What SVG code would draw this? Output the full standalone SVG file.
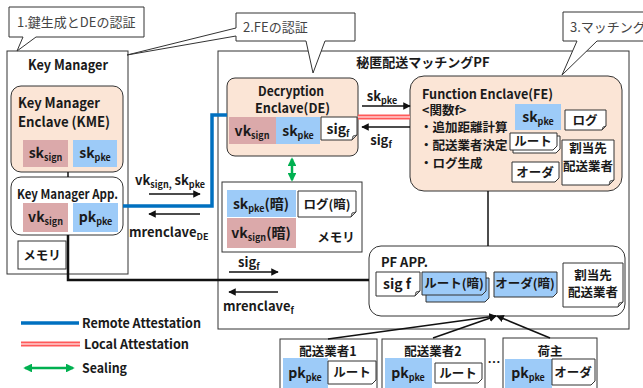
<svg xmlns="http://www.w3.org/2000/svg" width="643" height="388" viewBox="0 0 643 388">
<defs>
<style>
.t{font-family:"Noto Sans CJK JP","Noto Sans",sans-serif;font-weight:700;font-size:14px;fill:#1a1a1a}
.s{font-size:13px}
.j{font-size:12.5px}
.c{text-anchor:middle}
.n{font-weight:400;fill:#444}
.sub{font-size:9px}
.box{fill:#fff;stroke:#333;stroke-width:1}
.peach{fill:#FBE5D6;stroke:#333;stroke-width:1}
.pink{fill:#DBA9AA}
.blue{fill:#9DCBF8}
.doc{fill:#fff;stroke:#333;stroke-width:1}
.docb{fill:#9DCBF8;stroke:#333;stroke-width:1}
.fold{fill:#ccc;stroke:#333;stroke-width:0.8}
.ln{stroke:#111;stroke-width:1.5;fill:none}
.arr{stroke:#111;stroke-width:1.5;fill:none;marker-end:url(#ah)}
.ra{stroke:#0070C0;stroke-width:3.5;fill:none}
.la1{stroke:#FF5A5A;stroke-width:5;fill:none}
.la2{stroke:#FFD0D0;stroke-width:1.5;fill:none}
.seal{stroke:#00B050;stroke-width:2.5;fill:none;marker-start:url(#gs);marker-end:url(#ge)}
</style>
<marker id="ah" viewBox="0 0 10 10" refX="9" refY="5" markerWidth="5" markerHeight="5" orient="auto"><path d="M0,0 L10,5 L0,10 Z" fill="#111"/></marker>
<marker id="ge" viewBox="0 0 10 10" refX="8" refY="5" markerWidth="3.5" markerHeight="3.5" orient="auto"><path d="M0,0 L10,5 L0,10 Z" fill="#00B050"/></marker>
<marker id="gs" viewBox="0 0 10 10" refX="2" refY="5" markerWidth="3.5" markerHeight="3.5" orient="auto"><path d="M10,0 L0,5 L10,10 Z" fill="#00B050"/></marker>
</defs>
<rect width="643" height="388" fill="#fff"/>

<!-- platform container -->
<g id="pf">
<rect x="218" y="51" width="411" height="278" fill="none" stroke="#333" stroke-width="1"/>
<text class="t c s" x="423" y="67">秘匿配送マッチングPF</text>
</g>

<!-- Key Manager -->
<g id="key-manager">
<rect class="box" x="7" y="51" width="121" height="223"/>
<text class="t" x="28" y="70" textLength="80" lengthAdjust="spacingAndGlyphs">Key Manager</text>
</g>
<g id="kme">
<rect class="peach" x="11" y="86" width="112" height="86" rx="10"/>
<text class="t" x="18" y="108" textLength="82" lengthAdjust="spacingAndGlyphs">Key Manager</text>
<text class="t" x="18" y="127" textLength="92" lengthAdjust="spacingAndGlyphs">Enclave (KME)</text>
<rect class="pink" x="23" y="140" width="45" height="27"/>
<text class="t c" x="45.5" y="158">sk<tspan class="sub" dy="3">sign</tspan></text>
<rect class="blue" x="73" y="140" width="44" height="27"/>
<text class="t c" x="95" y="158">sk<tspan class="sub" dy="3">pke</tspan></text>
</g>
<g id="km-app">
<rect class="box" x="11" y="177" width="112" height="58" rx="10"/>
<text class="t s" x="17" y="199" textLength="101" lengthAdjust="spacingAndGlyphs">Key Manager App.</text>
<rect class="pink" x="23" y="203" width="45" height="29"/>
<text class="t c" x="45.5" y="222">vk<tspan class="sub" dy="3">sign</tspan></text>
<rect class="blue" x="73" y="203" width="45" height="29"/>
<text class="t c" x="95.5" y="222">pk<tspan class="sub" dy="3">pke</tspan></text>
</g>
<g id="km-memory">
<rect class="box" x="18" y="241" width="48" height="28"/>
<text class="t c j" x="42" y="259.5">メモリ</text>
</g>

<!-- Decryption Enclave -->
<g id="de">
<rect class="peach" x="227" y="78" width="131" height="78" rx="8"/>
<text class="t s" x="258" y="96" textLength="66" lengthAdjust="spacingAndGlyphs">Decryption</text>
<text class="t s" x="255" y="113" textLength="75" lengthAdjust="spacingAndGlyphs">Enclave(DE)</text>
<rect class="pink" x="229" y="117" width="47" height="27"/>
<text class="t c" x="252" y="136">vk<tspan class="sub" dy="3">sign</tspan></text>
<rect class="blue" x="276" y="117" width="44" height="27"/>
<text class="t c" x="298" y="136">sk<tspan class="sub" dy="3">pke</tspan></text>
<path class="doc" d="M321,117 H357 V135 L352,140 H321 Z"/>
<path class="fold" d="M352,140 L353,136 L357,135 Z"/>
<text class="t c" x="338" y="134">sig<tspan class="sub" dy="3">f</tspan></text>
</g>
<g id="de-memory">
<rect class="box" x="222" y="182" width="140" height="70"/>
<rect class="blue" x="227" y="190" width="69" height="27"/>
<text class="t c" x="261" y="209">sk<tspan class="sub" dy="3">pke</tspan><tspan dy="-3">(暗)</tspan></text>
<path class="doc" d="M298,191 H356 V212 L351,217 H298 Z"/>
<path class="fold" d="M351,217 L352,213 L356,212 Z"/>
<text class="t c j" x="327" y="209">ログ(暗)</text>
<rect class="pink" x="227" y="218" width="69" height="30"/>
<text class="t c" x="261" y="238">vk<tspan class="sub" dy="3">sign</tspan><tspan dy="-3">(暗)</tspan></text>
<text class="t c j" x="336" y="242">メモリ</text>
</g>

<!-- Function Enclave -->
<g id="fe">
<rect class="peach" x="410" y="76" width="212" height="115" rx="14"/>
<text class="t s" x="422" y="99" textLength="131" lengthAdjust="spacingAndGlyphs">Function Enclave(FE)</text>
<text class="t j" x="422" y="115">&lt;関数f&gt;</text>
<text class="t j" x="420" y="132">・追加距離計算</text>
<text class="t j" x="420" y="150">・配送業者決定</text>
<text class="t j" x="420" y="168">・ログ生成</text>
<rect class="blue" x="515" y="104" width="46" height="26"/>
<text class="t c" x="538" y="122">sk<tspan class="sub" dy="3">pke</tspan></text>
<path class="doc" d="M565,110 H606 V126 L602,130 H565 Z"/>
<path class="fold" d="M602,130 L603,127 L606,126 Z"/>
<text class="t c j" x="585" y="125">ログ</text>
<path class="doc" d="M513,136 H560 V149 L556,153 H513 Z"/>
<path class="doc" d="M510,133 H557 V146 L553,150 H510 Z"/>
<text class="t c j" x="533" y="146">ルート</text>
<path class="doc" d="M512,162 H559 V178 L555,182 H512 Z"/>
<text class="t c j" x="535" y="177">オーダ</text>
<path class="doc" d="M562,140 H614 V180 L609,185 H562 Z"/>
<path class="fold" d="M609,185 L610,181 L614,180 Z"/>
<text class="t c j" x="588" y="153">割当先</text>
<text class="t c j" x="588" y="171">配送業者</text>
</g>

<!-- PF APP -->
<g id="pf-app">
<rect class="box" x="369" y="246" width="256" height="70" rx="12"/>
<text class="t s" x="381" y="267" textLength="47" lengthAdjust="spacingAndGlyphs">PF APP.</text>
<path class="doc" d="M376,272 H420 V291 L415,296 H376 Z"/>
<path class="fold" d="M415,296 L416,292 L420,291 Z"/>
<text class="t c" x="397" y="289">sig f</text>
<path class="docb" d="M426,278 H489 V298 L485,302 H426 Z"/>
<path class="docb" d="M422,272 H486 V291 L482,295 H422 Z"/>
<text class="t c j" x="454" y="288">ルート(暗)</text>
<path class="docb" d="M494,272 H557 V293 L553,297 H494 Z"/>
<text class="t c j" x="525" y="288">オーダ(暗)</text>
<path class="doc" d="M563,263 H623 V302 L618,307 H563 Z"/>
<path class="fold" d="M618,307 L619,303 L623,302 Z"/>
<text class="t c j" x="593" y="280">割当先</text>
<text class="t c j" x="593" y="297">配送業者</text>
</g>

<!-- Users -->
<g id="carrier1">
<rect class="box" x="280" y="339" width="97" height="55"/>
<text class="t c j" x="328" y="356">配送業者1</text>
<rect class="blue" x="283" y="358" width="45" height="32"/>
<text class="t c" x="305" y="378">pk<tspan class="sub" dy="3">pke</tspan></text>
<path class="doc" d="M328,361 H376 V380 L372,384 H328 Z"/>
<text class="t c j" x="352" y="377">ルート</text>
</g>
<g id="carrier2">
<rect class="box" x="382" y="339" width="103" height="55"/>
<text class="t c j" x="433" y="356">配送業者2</text>
<rect class="blue" x="385" y="358" width="47" height="32"/>
<text class="t c" x="408" y="378">pk<tspan class="sub" dy="3">pke</tspan></text>
<path class="doc" d="M435,363 H482 V379 L478,383 H435 Z"/>
<text class="t c j" x="458" y="378">ルート</text>
</g>
<text class="t c s" x="494" y="367">…</text>
<g id="shipper">
<rect class="box" x="503" y="338" width="94" height="56"/>
<text class="t c j" x="550" y="356">荷主</text>
<rect class="blue" x="505" y="359" width="47" height="31"/>
<text class="t c" x="528" y="378">pk<tspan class="sub" dy="3">pke</tspan></text>
<path class="doc" d="M552,359 H595 V381 L591,385 H552 Z"/>
<text class="t c j" x="573" y="377">オーダ</text>
</g>

<!-- Connectors -->
<g id="connectors">
<path class="ln" d="M68,172 V177"/>
<path class="ln" style="stroke-width:2.5" d="M68,235 V280 H369"/>
<path class="ra" d="M123,206 H212 V115 H227"/>
<path class="arr" d="M149,194 H200"/>
<text class="t s" x="135" y="185">vk<tspan class="sub" dy="3">sign,</tspan><tspan dy="-3"> sk</tspan><tspan class="sub" dy="3">pke</tspan></text>
<path class="arr" d="M200,214 H149"/>
<text class="t s" x="129" y="237">mrenclave<tspan class="sub" dy="3">DE</tspan></text>
<path class="arr" d="M362,106 H410"/>
<text class="t s c" x="382" y="101">sk<tspan class="sub" dy="3">pke</tspan></text>
<path class="la1" d="M358,117 H410"/>
<path class="la2" d="M358,117 H410"/>
<path class="arr" d="M410,127 H362"/>
<text class="t s c" x="381" y="145">sig<tspan class="sub" dy="3">f</tspan></text>
<path class="seal" d="M292,159 V180"/>
<path class="ln" d="M488,191 V246"/>
<path class="arr" d="M229,272 H278"/>
<text class="t s" x="238" y="267">sig<tspan class="sub" dy="3">f</tspan></text>
<path class="arr" d="M278,292 H229"/>
<text class="t s" x="223" y="311">mrenclave<tspan class="sub" dy="3">f</tspan></text>
<path class="arr" d="M328,339 L496,316"/>
<path class="arr" d="M433,338 L496,316"/>
<path class="arr" d="M550,338 L497,316"/>
</g>

<!-- Callouts -->
<g id="callout1">
<path class="box" d="M9,7 H144 V37 H36 L17,51 L23,37 H9 Z"/>
<text class="t n s" x="17" y="27">1.鍵生成とDEの認証</text>
</g>
<g id="callout2">
<path class="box" d="M236,13 H355 V41 H325 L313,73 L306,41 H236 V36 L127,55 L236,28 Z"/>
<text class="t n s" x="243" y="32">2.FEの認証</text>
</g>
<g id="callout3">
<path class="box" d="M563,12 H650 V41 H597 L562,75 L577,41 H563 Z"/>
<text class="t n s" x="570" y="32">3.マッチング</text>
</g>

<!-- Legend -->
<g id="legend">
<path class="ra" d="M21,323 H79"/>
<text class="t s" x="82" y="328" textLength="119" lengthAdjust="spacingAndGlyphs">Remote Attestation</text>
<path class="la1" d="M21,344 H80"/>
<path class="la2" d="M21,344 H80"/>
<text class="t s" x="84" y="349" textLength="105" lengthAdjust="spacingAndGlyphs">Local Attestation</text>
<path class="seal" d="M25,368 H73"/>
<text class="t s" x="82" y="373" textLength="45" lengthAdjust="spacingAndGlyphs">Sealing</text>
</g>
</svg>
